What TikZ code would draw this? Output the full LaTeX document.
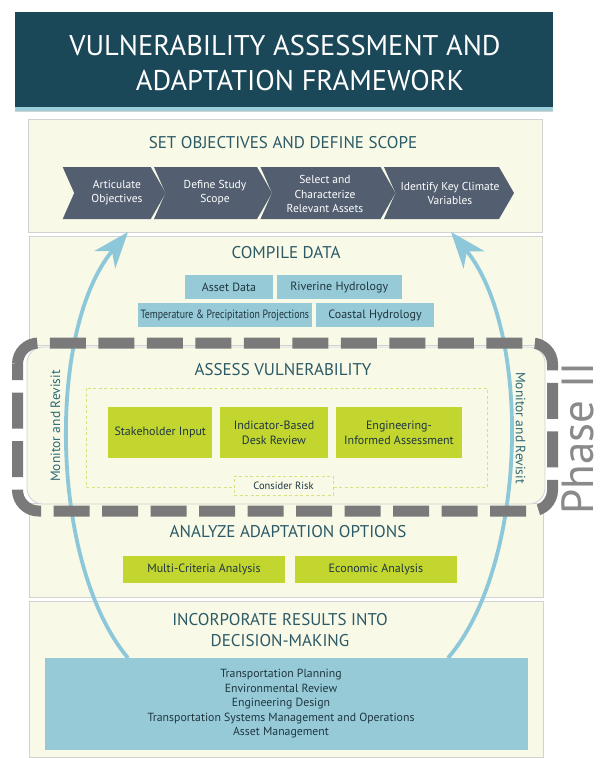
\documentclass[tikz,border=0pt]{standalone}
\usepackage{fontspec}
\setmainfont{PT Sans}
\usetikzlibrary{arrows.meta}

\definecolor{bannerc}{HTML}{1B4858}
\definecolor{stripec}{HTML}{9DCFDA}
\definecolor{creamc}{HTML}{F8F9E6}
\definecolor{panelline}{HTML}{D2D2D2}
\definecolor{headc}{HTML}{2C5A67}
\definecolor{chevc}{HTML}{535F70}
\definecolor{bluec}{HTML}{97CAD7}
\definecolor{greenc}{HTML}{C3D62F}
\definecolor{inkc}{HTML}{1E3640}
\definecolor{loopc}{HTML}{8DC8DA}
\definecolor{dashc}{HTML}{7A7A7A}
\definecolor{phasec}{HTML}{8A8A8A}
\definecolor{monc}{HTML}{2E6977}
\definecolor{dotgreen}{HTML}{D6E27E}

\newcommand{\fsz}[1]{\fontsize{#1}{1.22\dimexpr#1pt\relax}\selectfont}

\tikzset{
  panel/.style={fill=creamc, draw=panelline, line width=0.8pt},
  heading/.style={text=headc, font=\fsz{17}, align=center},
  chevron/.style={fill=chevc, draw=none},
  chevtext/.style={text=white, font=\fsz{11.5}, align=center, inner sep=0pt},
  databox/.style={fill=bluec, draw=none, text=inkc, font=\fsz{12}, inner sep=0pt},
  optbox/.style={fill=greenc, draw=none, text=inkc, font=\fsz{12}, align=center, inner sep=0pt},
  looparrow/.style={draw=loopc, line width=3.8pt,
    -{Stealth[length=36pt, width=27pt, inset=11pt, fill=loopc]}},
  monitor/.style={text=monc, font=\fsz{13.5}, inner sep=0pt},
}

\begin{document}
\begin{tikzpicture}[x=1pt, y=-1pt]
\useasboundingbox (0,0) rectangle (602,758);
\fill[white] (0,0) rectangle (602,758);

% title banner
\fill[bannerc] (15,12) rectangle (553,107);
\fill[stripec] (15,107) rectangle (553,111);
\draw[panelline, line width=0.8pt] (15,111.5) -- (553,111.5);
\node[text=white, font=\fsz{28.5}, inner sep=0pt] (title1) at (285,46) {VULNERABILITY ASSESSMENT AND};
\node[text=white, font=\fsz{28.5}, inner sep=0pt] (title2) at (300,81) {ADAPTATION FRAMEWORK};

% stage panels
\draw[panel] (28,119) rectangle (542,232);
\draw[panel] (29,236) rectangle (542,345);
\draw[panel] (29,503) rectangle (543,597);
\draw[panel] (29,601) rectangle (543,757);
\draw[panel, rounded corners=16pt] (27,347) rectangle (545,504);

% 1. objectives and scope
\node[heading] (h1) at (283,143) {SET OBJECTIVES AND DEFINE SCOPE};
\foreach \xl/\xr in {62.7/150.7, 154/257, 260.5/380.5, 384/499}{
  \fill[chevron] (\xl,167) -- (\xr,167) -- (\xr+15,193) -- (\xr,219)
                 -- (\xl,219) -- (\xl+11.5,193) -- cycle;
}
\node[chevtext] (c1) at (117,193) {Articulate\\Objectives};
\node[chevtext] (c2) at (215,193) {Define Study\\Scope};
\node[chevtext] (c3) at (325,194) {Select and\\Characterize\\Relevant Assets};
\node[chevtext] (c4) at (450,193) {Identify Key Climate\\Variables};

% 2. compile data
\node[heading] (h2) at (286,253) {COMPILE DATA};
\node[databox, minimum width=87.7pt, minimum height=24.3pt] (asset) at (229,287.2) {Asset Data};
\node[databox, minimum width=125pt, minimum height=24.3pt] (river) at (339.2,287.2) {Riverine Hydrology};
\node[databox, minimum width=173.7pt, minimum height=24.6pt] (temp) at (224.9,315)
  {\scalebox{0.82}[1]{Temperature \& Precipitation Projections}};
\node[databox, minimum width=118pt, minimum height=24.6pt] (coast) at (375,315) {Coastal Hydrology};

% 3. assess vulnerability
\node[heading] (h3) at (283,370) {ASSESS VULNERABILITY};
\draw[dotgreen, line width=0.9pt, dash pattern=on 3pt off 2.5pt] (86,388) rectangle (487,487);
\node[optbox, minimum width=104pt, minimum height=51.5pt] (stake) at (160.3,432.7) {Stakeholder Input};
\node[optbox, minimum width=108pt, minimum height=51.5pt] (desk) at (274,432.7) {Indicator-Based\\Desk Review};
\node[optbox, minimum width=126pt, minimum height=51.5pt] (eng) at (399,432.7) {Engineering-\\Informed Assessment};
\node[fill=creamc, draw=dotgreen, line width=0.9pt, dash pattern=on 3pt off 2.5pt,
      minimum width=99pt, minimum height=19pt, inner sep=0pt, text=inkc, font=\fsz{10.5}]
  (risk) at (283.5,485.5) {Consider Risk};

% 4. adaptation options
\node[heading] (h4) at (288,532) {ANALYZE ADAPTATION OPTIONS};
\node[optbox, minimum width=162pt, minimum height=27.5pt] (mca) at (204,569.5) {Multi-Criteria Analysis};
\node[optbox, minimum width=162pt, minimum height=27.5pt] (eca) at (376,569.5) {Economic Analysis};

% 5. decision-making
\node[heading] (h5) at (280,630) {INCORPORATE RESULTS INTO\\DECISION-MAKING};
\node[fill=bluec, minimum width=483pt, minimum height=92pt, inner sep=0pt] (dm) at (286.5,704) {};
\node[text=inkc, font=\fontsize{11.8}{14.5}\selectfont, align=center, inner sep=0pt] (uses) at (281,704)
  {Transportation Planning\\Environmental Review\\Engineering Design\\Transportation Systems Management and Operations\\Asset Management};

% monitor-and-revisit loop
\coordinate (lstart) at (128,658);
\coordinate (lend) at (128,232);
\coordinate (rstart) at (448,658);
\coordinate (rend) at (451,232);
\draw[looparrow] (lstart) .. controls (50,565) and (46,330) .. (lend);
\draw[looparrow] (rstart) .. controls (528,565) and (532,330) .. (rend);
\node[monitor, rotate=90] (monl) at (55.5,426) {Monitor and Revisit};
\node[monitor, rotate=-90] (monr) at (520.5,428) {Monitor and Revisit};

% phase II outline
\draw[dashc, line width=11pt, rounded corners=21pt, dash pattern=on 36pt off 12.5pt, dash phase=20pt]
  (17.5,343) rectangle (552.5,511);
\node[text=phasec, font=\fsz{45}, rotate=90, inner sep=0pt] (phase) at (577.5,438.5) {Phase II};
\end{tikzpicture}
\end{document}
